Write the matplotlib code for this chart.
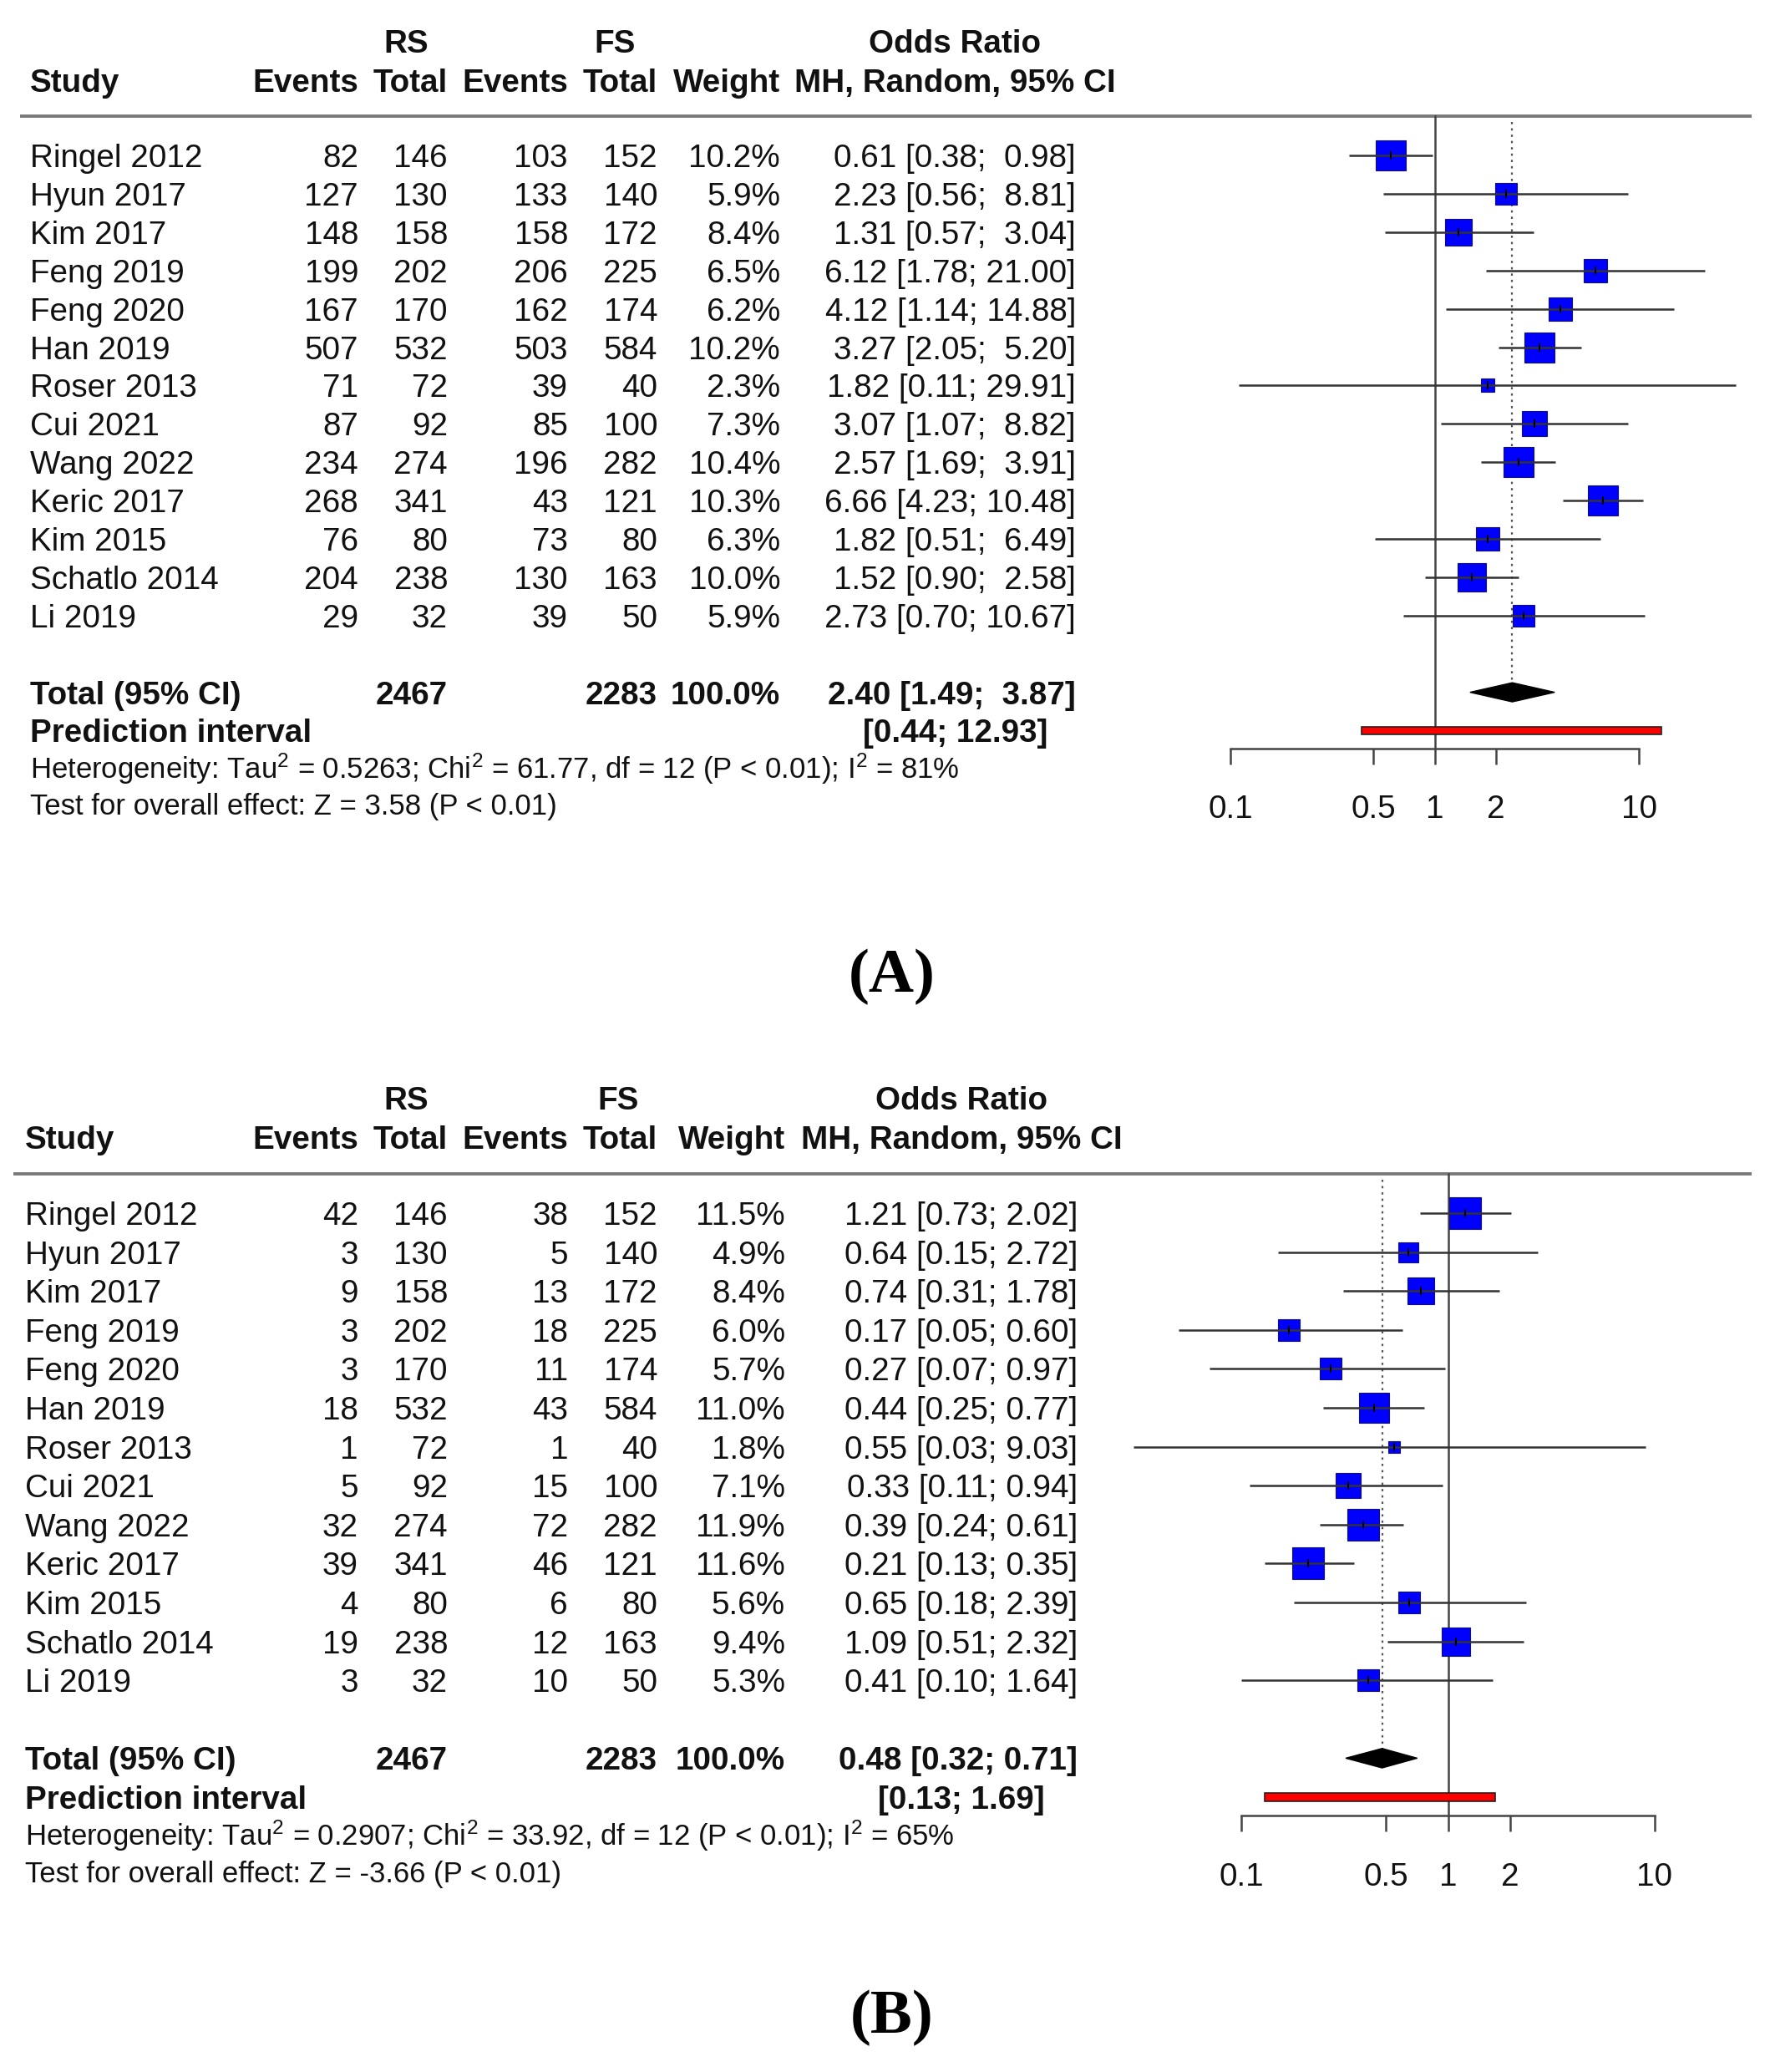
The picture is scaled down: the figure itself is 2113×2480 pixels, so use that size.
import numpy as np
import matplotlib.pyplot as plt

plt.rcParams['font.family'] = ['Liberation Sans', 'DejaVu Sans']
plt.rcParams['mathtext.fontset'] = 'custom'
plt.rcParams['mathtext.rm'] = 'Liberation Sans'
plt.rcParams['mathtext.it'] = 'Liberation Sans:italic'
plt.rcParams['mathtext.bf'] = 'Liberation Sans:bold'
plt.rcParams['mathtext.default'] = 'regular'

# ---- data ----
studies = ["Ringel 2012", "Hyun 2017", "Kim 2017", "Feng 2019", "Feng 2020",
           "Han 2019", "Roser 2013", "Cui 2021", "Wang 2022", "Keric 2017",
           "Kim 2015", "Schatlo 2014", "Li 2019"]
rs_total = [146, 130, 158, 202, 170, 532, 72, 92, 274, 341, 80, 238, 32]
fs_total = [152, 140, 172, 225, 174, 584, 40, 100, 282, 121, 80, 163, 50]

# panel A
a_rs_events = [82, 127, 148, 199, 167, 507, 71, 87, 234, 268, 76, 204, 29]
a_fs_events = [103, 133, 158, 206, 162, 503, 39, 85, 196, 43, 73, 130, 39]
a_weight = [10.2, 5.9, 8.4, 6.5, 6.2, 10.2, 2.3, 7.3, 10.4, 10.3, 6.3, 10.0, 5.9]
a_or = [0.61, 2.23, 1.31, 6.12, 4.12, 3.27, 1.82, 3.07, 2.57, 6.66, 1.82, 1.52, 2.73]
a_lo = [0.38, 0.56, 0.57, 1.78, 1.14, 2.05, 0.11, 1.07, 1.69, 4.23, 0.51, 0.90, 0.70]
a_hi = [0.98, 8.81, 3.04, 21.00, 14.88, 5.20, 29.91, 8.82, 3.91, 10.48, 6.49, 2.58, 10.67]
a_total = (2.40, 1.49, 3.87)
a_pred = (0.44, 12.93)
a_het = r"Heterogeneity: Tau$^2$ = 0.5263; Chi$^2$ = 61.77, df = 12 (P < 0.01); I$^2$ = 81%"
a_test = "Test for overall effect: Z = 3.58 (P < 0.01)"

# panel B
b_rs_events = [42, 3, 9, 3, 3, 18, 1, 5, 32, 39, 4, 19, 3]
b_fs_events = [38, 5, 13, 18, 11, 43, 1, 15, 72, 46, 6, 12, 10]
b_weight = [11.5, 4.9, 8.4, 6.0, 5.7, 11.0, 1.8, 7.1, 11.9, 11.6, 5.6, 9.4, 5.3]
b_or = [1.21, 0.64, 0.74, 0.17, 0.27, 0.44, 0.55, 0.33, 0.39, 0.21, 0.65, 1.09, 0.41]
b_lo = [0.73, 0.15, 0.31, 0.05, 0.07, 0.25, 0.03, 0.11, 0.24, 0.13, 0.18, 0.51, 0.10]
b_hi = [2.02, 2.72, 1.78, 0.60, 0.97, 0.77, 9.03, 0.94, 0.61, 0.35, 2.39, 2.32, 1.64]
b_total = (0.48, 0.32, 0.71)
b_pred = (0.13, 1.69)
b_het = r"Heterogeneity: Tau$^2$ = 0.2907; Chi$^2$ = 33.92, df = 12 (P < 0.01); I$^2$ = 65%"
b_test = "Test for overall effect: Z = -3.66 (P < 0.01)"

ticks = [0.1, 0.5, 1, 2, 10]
tick_labels = ["0.1", "0.5", "1", "2", "10"]

# ---- layout (pixels) ----
W, H = 2113, 2480
FS = 27.8
fig = plt.figure(figsize=(W / 100, H / 100), dpi=100)
bg = fig.add_axes([0, 0, 1, 1])
bg.set_xlim(0, W)
bg.set_ylim(H, 0)
bg.axis('off')

lay_a = dict(h1=49, h2=96, rule=139, rule_x=(24, 2097), row0=186, dy=45.9,
             study=36, ev1=429, tot1=536, ev2=680, tot2=787, wt=934,
             or_c=1143, or_r=1288, pred_r=1254, rs_c=486, fs_c=736,
             f_left=1473, f_right=1962, axis=896, lab_y=965, tag_y=1167)
lay_b = dict(h1=1314, h2=1361, rule=1405, rule_x=(16, 2097), row0=1452, dy=46.6,
             study=30, ev1=429, tot1=536, ev2=680, tot2=787, wt=940,
             or_c=1151, or_r=1290, pred_r=1251, rs_c=486, fs_c=740,
             f_left=1486, f_right=1981, axis=2173, lab_y=2243, tag_y=2413)


def put(x, y, s, ha='right', bold=False, size=FS):
    bg.text(x, y + 14 * size / FS, s, ha=ha, va='baseline', fontsize=size,
            fontweight='bold' if bold else 'normal', color='#111111')


def panel(L, rs_ev, fs_ev, wt, orr, lo, hi, tot, pred, het, test, tag):
    # headers
    put(L['rs_c'], L['h1'], "RS", ha='center', bold=True)
    put(L['fs_c'], L['h1'], "FS", ha='center', bold=True)
    put(L['or_c'], L['h1'], "Odds Ratio", ha='center', bold=True)
    put(L['study'], L['h2'], "Study", ha='left', bold=True)
    put(L['ev1'], L['h2'], "Events", bold=True)
    put(L['tot1'], L['h2'], "Total", bold=True)
    put(L['ev2'], L['h2'], "Events", bold=True)
    put(L['tot2'], L['h2'], "Total", bold=True)
    put(L['wt'], L['h2'], "Weight", bold=True)
    put(L['or_c'], L['h2'], "MH, Random, 95% CI", ha='center', bold=True)
    bg.plot(L['rule_x'], [L['rule'], L['rule']], color='#7a7a7a', lw=2.8,
            solid_capstyle='butt')

    hw = max(len(f"{v:.2f}") for v in hi)
    for i in range(len(studies)):
        y = L['row0'] + i * L['dy']
        put(L['study'], y, studies[i], ha='left')
        put(L['ev1'], y, str(rs_ev[i]))
        put(L['tot1'], y, str(rs_total[i]))
        put(L['ev2'], y, str(fs_ev[i]))
        put(L['tot2'], y, str(fs_total[i]))
        put(L['wt'], y, f"{wt[i]:.1f}%")
        put(L['or_r'], y, f"{orr[i]:.2f} [{lo[i]:.2f}; {hi[i]:>{hw}.2f}]")

    yt = L['row0'] + 14 * L['dy']
    yp = L['row0'] + 15 * L['dy']
    put(L['study'], yt, "Total (95% CI)", ha='left', bold=True)
    put(L['tot1'], yt, str(sum(rs_total)), bold=True)
    put(L['tot2'], yt, str(sum(fs_total)), bold=True)
    put(L['wt'], yt, "100.0%", bold=True)
    put(L['or_r'], yt, f"{tot[0]:.2f} [{tot[1]:.2f}; {tot[2]:>{hw}.2f}]", bold=True)
    put(L['study'], yp, "Prediction interval", ha='left', bold=True)
    put(L['pred_r'], yp, f"[{pred[0]:.2f}; {pred[1]:.2f}]", bold=True)
    put(L['study'], L['row0'] + 16 * L['dy'] - 1, het, ha='left', size=25)
    put(L['study'], L['row0'] + 17 * L['dy'] - 4, test, ha='left', size=25)

    bg.text(1068, L['tag_y'] + 20, tag, ha='center', va='baseline', fontsize=54,
            fontweight='bold', family='Liberation Serif')

    # forest plot axes, rows in data units
    dy = L['dy']
    ytop = (L['rule'] - L['row0']) / dy
    ybot = (L['axis'] - L['row0']) / dy
    ax = fig.add_axes([L['f_left'] / W, 1 - L['axis'] / H,
                       (L['f_right'] - L['f_left']) / W, (L['axis'] - L['rule']) / H])
    ax.set_xscale('log')
    ax.set_xlim(0.1, 10)
    ax.set_ylim(ybot, ytop)
    ax.patch.set_alpha(0)
    for s in ['top', 'left', 'right']:
        ax.spines[s].set_visible(False)
    ax.spines['bottom'].set_color('#444444')
    ax.spines['bottom'].set_linewidth(1.8)
    ax.set_xticks(ticks)
    ax.set_xticklabels([])
    ax.minorticks_off()
    ax.tick_params(axis='x', direction='out', length=13.7, width=1.8, color='#444444')
    ax.set_yticks([])

    ax.plot([1, 1], [ytop, ybot], color='#444444', lw=1.8, clip_on=False, zorder=1)
    ax.plot([tot[0], tot[0]], [ytop + 0.15, 14 - 0.25], color='#555555', lw=1.6,
            ls=(0, (1.2, 2.2)), clip_on=False, zorder=1)

    rows = np.arange(len(studies))
    for i in rows:
        ax.plot(orr[i], i, marker='s', ms=7.9 * np.sqrt(wt[i]), mfc='#0000ff',
                mec='#10107a', mew=0.8, ls='none', zorder=2, clip_on=False)
    ax.hlines(rows, lo, hi, color='#333333', lw=1.8, zorder=3, clip_on=False)
    ax.plot(orr, rows, ls='none', marker='|', ms=7, mew=1.5, color='black',
            zorder=4, clip_on=False)

    ax.fill([tot[1], tot[0], tot[2], tot[0]], [14, 13.75, 14, 14.25],
            color='black', zorder=3, clip_on=False)
    ax.fill([pred[0], pred[1], pred[1], pred[0]], [14.9, 14.9, 15.1, 15.1],
            facecolor='#ff0000', edgecolor='#222222', lw=1.2, zorder=3, clip_on=False)

    for t, lab in zip(ticks, tick_labels):
        ax.text(t, (L['lab_y'] + 14 - L['row0']) / dy, lab, ha='center', va='baseline',
                fontsize=FS, color='#111111', clip_on=False)


panel(lay_a, a_rs_events, a_fs_events, a_weight, a_or, a_lo, a_hi,
      a_total, a_pred, a_het, a_test, "(A)")
panel(lay_b, b_rs_events, b_fs_events, b_weight, b_or, b_lo, b_hi,
      b_total, b_pred, b_het, b_test, "(B)")

fig.savefig("out.png", dpi=100, facecolor='white')
